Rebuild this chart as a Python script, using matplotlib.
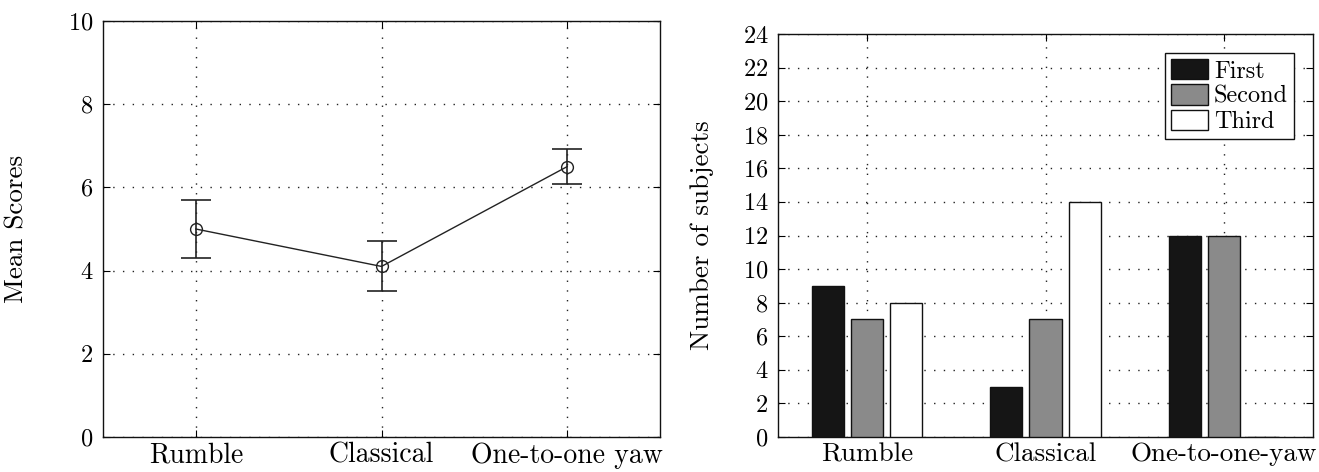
import matplotlib
matplotlib.use("Agg")
import matplotlib.pyplot as plt
import numpy as np

plt.rcParams['font.family'] = ['cmr10', 'DejaVu Serif']
plt.rcParams['axes.formatter.use_mathtext'] = True
plt.rcParams['axes.unicode_minus'] = False

# Left panel data
conditions = ["Rumble", "Classical", "One-to-one yaw"]
mean_scores = [5.0, 4.1, 6.5]
err_upper = [0.7, 0.6, 0.42]
err_lower = [0.7, 0.6, 0.43]

# Right panel data
bar_categories = ["Rumble", "Classical", "One-to-one-yaw"]
first = [9, 3, 12]
second = [7, 7, 12]
third = [8, 14, 0]
series_names = ["First", "Second", "Third"]
series_colors = ["#151515", "#8a8a8a", "#ffffff"]

FS = 19.5
YTFS = 17.5
LFS = 17.5
W, H = 1319, 472
fig = plt.figure(figsize=(W / 100, H / 100), dpi=100)

def style_axes(ax, xfs):
    ax.tick_params(direction='in', length=5, width=0.8, top=True, right=True)
    ax.tick_params(axis='x', pad=4, labelsize=xfs)
    ax.tick_params(axis='y', pad=7, labelsize=YTFS)
    ax.grid(True, color='#222222', linestyle=(0, (1, 6)), linewidth=1.0)
    ax.set_axisbelow(True)
    for s in ax.spines.values():
        s.set_linewidth(1.0)
        s.set_color('#111111')

# Left axes
ax1 = fig.add_axes([103 / W, 1 - 437 / H, (660 - 103) / W, (437 - 21) / H])
x = np.arange(1, len(conditions) + 1)
ax1.errorbar(x, mean_scores, yerr=[err_lower, err_upper], fmt='-o', color='#222222',
             markerfacecolor='none', markeredgecolor='#222222', markersize=8.5,
             linewidth=1.0, elinewidth=1.2, capsize=10.8, capthick=1.2)
ax1.set_xlim(0.5, 3.5)
ax1.set_ylim(0, 10)
ax1.set_yticks(np.arange(0, 11, 2))
ax1.set_xticks(x)
ax1.set_xticklabels(conditions)
ax1.set_ylabel("Mean Scores", fontsize=FS)
ax1.yaxis.set_label_coords((29 - 103) / 557, 0.5)
style_axes(ax1, 20)

# Right axes
ax2 = fig.add_axes([778 / W, 1 - 437 / H, (1313 - 778) / W, (437 - 34) / H])
xb = np.arange(1, len(bar_categories) + 1)
offsets = [-0.22, 0.0, 0.22]
for vals, off, col, name in zip([first, second, third], offsets, series_colors, series_names):
    ax2.bar(xb + off, vals, width=0.18, color=col, edgecolor='#111111',
            linewidth=1.0, label=name, zorder=3)
ax2.set_xlim(0.5, 3.5)
ax2.set_ylim(0, 24)
ax2.set_yticks(np.arange(0, 25, 2))
ax2.set_xticks(xb)
ax2.set_xticklabels(bar_categories)
ax2.set_ylabel("Number of subjects", fontsize=FS)
ax2.yaxis.set_label_coords((714 - 778) / 535, 0.5)
style_axes(ax2, 19.5)
leg = ax2.legend(loc='upper right', bbox_to_anchor=(1 - 19 / 535, 1 - 19 / 403),
                 borderaxespad=0, fontsize=LFS, frameon=True, fancybox=False,
                 edgecolor='#111111', framealpha=1, handlelength=1.5,
                 handleheight=0.9, handletextpad=0.25, labelspacing=0.08,
                 borderpad=0.25)
leg.get_frame().set_linewidth(1.0)

fig.savefig("out.png", dpi=100, facecolor='white')
